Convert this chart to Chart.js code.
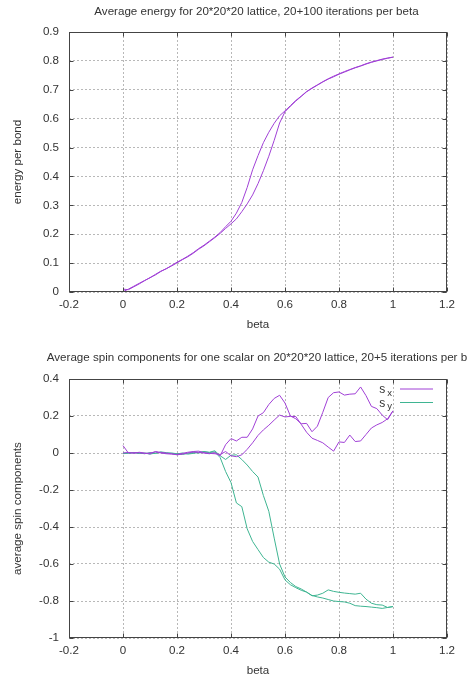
<!DOCTYPE html>
<html>
<head>
<meta charset="utf-8">
<title>Average energy and spin components</title>
<script src="https://cdn.jsdelivr.net/npm/chart.js@4.4.1/dist/chart.umd.min.js"></script>
<style>
  html, body { margin: 0; padding: 0; background: #fff; }
  #wrap { position: relative; width: 467px; height: 679px; overflow: hidden; }
  canvas { position: absolute; left: 0; }
  #energyChart { top: 0; }
  #spinChart { top: 340px; }
</style>
</head>
<body>
<div id="wrap">
  <canvas id="energyChart" width="467" height="340"></canvas>
  <canvas id="spinChart" width="467" height="339"></canvas>
</div>
<script>
// beta grid of the sweeps (up: 0 -> 1, down: 1 -> 0, stored here in ascending beta)
const beta = [0, 0.02, 0.04, 0.06, 0.08, 0.1, 0.12, 0.14, 0.16, 0.18,
  0.2, 0.22, 0.24, 0.26, 0.28, 0.3, 0.32, 0.34, 0.36, 0.38,
  0.4, 0.42, 0.44, 0.46, 0.48, 0.5, 0.52, 0.54, 0.56, 0.58,
  0.6, 0.62, 0.64, 0.66, 0.68, 0.7, 0.72, 0.74, 0.76, 0.78,
  0.8, 0.82, 0.84, 0.86, 0.88, 0.9, 0.92, 0.94, 0.96, 0.98, 1];

// energy per bond
const energyUp = [0.010, 0.008, 0.018, 0.028, 0.039, 0.050, 0.059, 0.071, 0.081, 0.090,
  0.101, 0.112, 0.122, 0.134, 0.148, 0.160, 0.174, 0.188, 0.203, 0.220,
  0.236, 0.253, 0.278, 0.305, 0.336, 0.375, 0.420, 0.470, 0.525, 0.585,
  0.624, 0.643, 0.661, 0.677, 0.693, 0.705, 0.716, 0.727, 0.737, 0.745,
  0.754, 0.761, 0.769, 0.776, 0.782, 0.789, 0.795, 0.800, 0.805, 0.809, 0.813];
const energyDown = [0.001, 0.010, 0.020, 0.030, 0.040, 0.049, 0.061, 0.072, 0.080, 0.092,
  0.103, 0.113, 0.124, 0.136, 0.150, 0.162, 0.176, 0.190, 0.206, 0.226,
  0.245, 0.273, 0.310, 0.362, 0.423, 0.472, 0.517, 0.553, 0.584, 0.610,
  0.627, 0.645, 0.663, 0.678, 0.694, 0.706, 0.717, 0.728, 0.738, 0.747,
  0.755, 0.763, 0.770, 0.777, 0.783, 0.790, 0.796, 0.801, 0.806, 0.810, 0.813];

// spin components s_x, s_y
const sxUp = [0.040, 0.000, 0.002, 0.001, -0.003, 0.000, 0.006, 0.000, -0.004, -0.006,
  -0.008, -0.002, 0.004, 0.008, 0.010, 0.002, -0.002, -0.004, -0.008, 0.008,
  -0.015, -0.020, -0.010, 0.020, 0.055, 0.095, 0.125, 0.150, 0.178, 0.205,
  0.195, 0.198, 0.197, 0.155, 0.112, 0.080, 0.068, 0.055, 0.032, 0.010,
  0.060, 0.057, 0.097, 0.062, 0.065, 0.100, 0.135, 0.152, 0.165, 0.185, 0.228];
const sxDown = [0.000, 0.003, -0.002, 0.004, 0.000, -0.005, 0.008, 0.003, 0.000, -0.004,
  -0.010, -0.006, 0.000, 0.005, 0.003, 0.000, -0.004, 0.002, -0.015, 0.045,
  0.078, 0.065, 0.085, 0.085, 0.130, 0.200, 0.218, 0.262, 0.295, 0.312,
  0.270, 0.200, 0.185, 0.158, 0.160, 0.115, 0.145, 0.220, 0.300, 0.326,
  0.330, 0.313, 0.318, 0.320, 0.357, 0.310, 0.252, 0.240, 0.205, 0.180, 0.228];
const syUp = [0.000, -0.002, 0.003, 0.000, -0.004, 0.002, -0.003, 0.006, 0.002, -0.002,
  -0.005, 0.000, -0.006, -0.002, 0.004, 0.008, 0.004, 0.012, -0.015, -0.035,
  -0.012, -0.010, -0.035, -0.065, -0.100, -0.130, -0.230, -0.315, -0.460, -0.600,
  -0.670, -0.700, -0.722, -0.735, -0.752, -0.772, -0.768, -0.758, -0.740, -0.748,
  -0.753, -0.757, -0.760, -0.763, -0.758, -0.790, -0.812, -0.820, -0.822, -0.835, -0.830];
const syDown = [-0.004, 0.000, 0.002, -0.003, 0.000, -0.006, 0.000, 0.004, -0.002, 0.000,
  -0.004, -0.008, -0.002, 0.003, 0.000, 0.006, 0.002, 0.006, -0.025, -0.100,
  -0.160, -0.270, -0.290, -0.410, -0.478, -0.522, -0.565, -0.590, -0.600, -0.628,
  -0.686, -0.712, -0.728, -0.742, -0.752, -0.770, -0.778, -0.784, -0.792, -0.800,
  -0.803, -0.805, -0.812, -0.825, -0.828, -0.830, -0.833, -0.836, -0.840, -0.835, -0.830];

const xTicks = [-0.2, 0, 0.2, 0.4, 0.6, 0.8, 1, 1.2];
const energyTicks = [0, 0.1, 0.2, 0.3, 0.4, 0.5, 0.6, 0.7, 0.8, 0.9];
const spinTicks = [-1, -0.8, -0.6, -0.4, -0.2, 0, 0.2, 0.4];

const FONT = "'Liberation Sans', Arial, sans-serif";
const FS = 11.6;
const TEXT = '#333';
const PURPLE = '#a040d6';
const GREEN = '#3fb592';

Chart.defaults.font.family = FONT;
Chart.defaults.font.size = FS;
Chart.defaults.color = TEXT;

// one continuous line: up sweep then back down
function sweep(up, down) {
  const pts = beta.map((b, i) => ({ x: b, y: up[i] }));
  for (let i = beta.length - 1; i >= 0; i--) pts.push({ x: beta[i], y: down[i] });
  return pts;
}

// gnuplot-like frame, inward ticks, title and key
const gnuFrame = {
  id: 'gnuFrame',
  afterDraw(chart, args, opts) {
    const { ctx, chartArea: a, scales } = chart;
    const l = Math.round(a.left) + 0.5, r = Math.round(a.right) - 0.5;
    const t = Math.round(a.top) + 0.5, b = Math.round(a.bottom) - 0.5;
    ctx.save();
    ctx.strokeStyle = '#444';
    ctx.lineWidth = 1;
    ctx.strokeRect(l, t, r - l, b - t);
    ctx.beginPath();
    scales.x.ticks.forEach(tk => {
      const x = Math.round(scales.x.getPixelForValue(tk.value)) + 0.5;
      ctx.moveTo(x, b); ctx.lineTo(x, b - 4);
      ctx.moveTo(x, t); ctx.lineTo(x, t + 4);
    });
    scales.y.ticks.forEach(tk => {
      const y = Math.round(scales.y.getPixelForValue(tk.value)) + 0.5;
      ctx.moveTo(l, y); ctx.lineTo(l + 4, y);
      ctx.moveTo(r, y); ctx.lineTo(r - 4, y);
    });
    ctx.stroke();

    ctx.fillStyle = TEXT;
    ctx.font = FS + 'px ' + FONT;
    ctx.textAlign = 'center';
    ctx.textBaseline = 'middle';
    ctx.fillText(opts.title, opts.titleX, opts.titleY);

    if (opts.key) {
      chart.data.datasets.forEach((ds, i) => {
        const [base, sub] = ds.label.split('_');
        const y = a.top + 10 + i * 13.5;
        ctx.strokeStyle = ds.borderColor;
        ctx.beginPath();
        ctx.moveTo(a.right - 47, y); ctx.lineTo(a.right - 14, y);
        ctx.stroke();
        ctx.textAlign = 'right';
        ctx.textBaseline = 'alphabetic';
        ctx.font = '9.5px ' + FONT;
        const subW = ctx.measureText(sub).width;
        ctx.fillText(sub, a.right - 55, y + 6.5);
        ctx.font = '12px ' + FONT;
        ctx.fillText(base, a.right - 55 - subW - 2, y + 4);
      });
    }
    ctx.restore();
  }
};

function axes(yMin, yMax, yTicks, yTitle, xHeight, xTitlePad) {
  return {
    x: {
      type: 'linear', min: -0.2, max: 1.2,
      afterBuildTicks: s => { s.ticks = xTicks.map(v => ({ value: v })); },
      afterFit: s => { s.height = xHeight; },
      ticks: { padding: 5.5, autoSkip: false, maxRotation: 0, callback: v => String(v) },
      grid: { color: '#b8b8b8', drawTicks: false },
      border: { display: false, dash: [2, 2] },
      title: { display: true, text: 'beta', padding: { top: 0, bottom: xTitlePad } }
    },
    y: {
      type: 'linear', min: yMin, max: yMax,
      afterBuildTicks: s => { s.ticks = yTicks.map(v => ({ value: v })); },
      afterFit: s => { s.width = 69; },
      ticks: { padding: 10, autoSkip: false, callback: v => String(v) },
      grid: { color: '#b8b8b8', drawTicks: false },
      border: { display: false, dash: [2, 2] },
      title: { display: true, text: yTitle, padding: { top: 11, bottom: 0 } }
    }
  };
}

const lineStyle = { borderWidth: 1, pointRadius: 0, showLine: true, tension: 0, fill: false };

new Chart(document.getElementById('energyChart'), {
  type: 'scatter',
  data: {
    datasets: [
      { label: 'energy', data: sweep(energyUp, energyDown), borderColor: PURPLE, ...lineStyle }
    ]
  },
  options: {
    responsive: false,
    animation: false,
    layout: { padding: { top: 32, right: 20, left: 0, bottom: 0 } },
    scales: axes(0, 0.9, energyTicks, 'energy per bond', 48, 8),
    plugins: {
      legend: { display: false },
      tooltip: { enabled: false },
      gnuFrame: { title: 'Average energy for 20*20*20 lattice, 20+100 iterations per beta', titleX: 256.5, titleY: 11.5 }
    }
  },
  plugins: [gnuFrame]
});

new Chart(document.getElementById('spinChart'), {
  type: 'scatter',
  data: {
    datasets: [
      { label: 's_x', data: sweep(sxUp, sxDown), borderColor: PURPLE, ...lineStyle },
      { label: 's_y', data: sweep(syUp, syDown), borderColor: GREEN, ...lineStyle }
    ]
  },
  options: {
    responsive: false,
    animation: false,
    layout: { padding: { top: 39, right: 20, left: 0, bottom: 0 } },
    scales: axes(-1, 0.4, spinTicks, 'average spin components', 41, 1),
    plugins: {
      legend: { display: false },
      tooltip: { enabled: false },
      gnuFrame: { title: 'Average spin components for one scalar on 20*20*20 lattice, 20+5 iterations per beta', titleX: 265, titleY: 17.5, key: true }
    }
  },
  plugins: [gnuFrame]
});
</script>
</body>
</html>
